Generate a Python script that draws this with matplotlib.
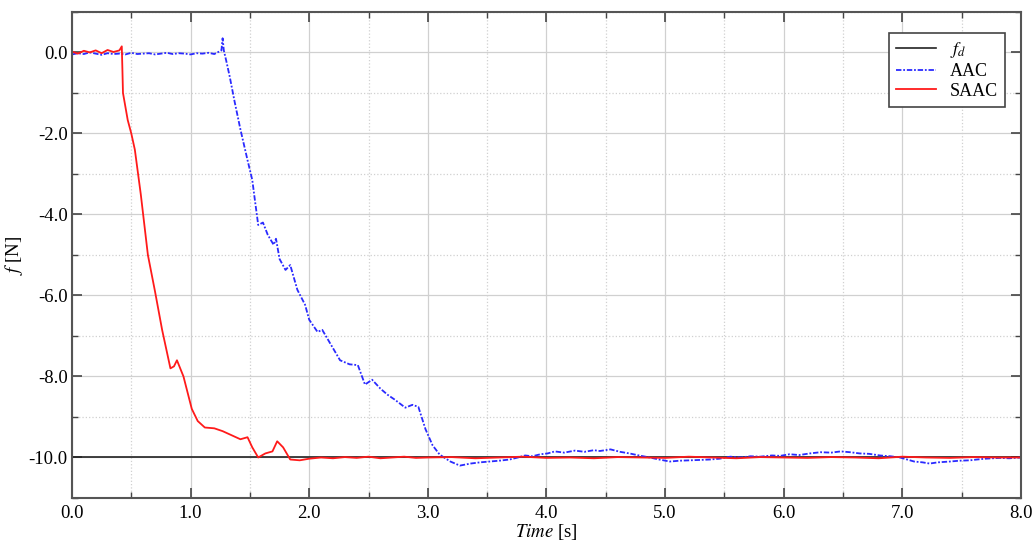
import matplotlib.pyplot as plt
from matplotlib.ticker import MultipleLocator, FormatStrFormatter

plt.rcParams['font.family'] = ['Liberation Serif', 'DejaVu Serif']
plt.rcParams['mathtext.fontset'] = 'stix'

# desired force
fd_time = [0.0, 8.0]
fd_force = [-10.0, -10.0]

# AAC response
aac_time = [0.0, 0.05, 0.1, 0.15, 0.2, 0.25, 0.3, 0.35, 0.4, 0.45, 0.5, 0.55, 0.6,
            0.65, 0.7, 0.75, 0.8, 0.85, 0.9, 0.95, 1.0, 1.05, 1.1, 1.15, 1.2, 1.24,
            1.26, 1.27, 1.28, 1.3, 1.33, 1.37, 1.42, 1.48, 1.52, 1.54, 1.57, 1.61,
            1.65, 1.7, 1.72, 1.75, 1.8, 1.84, 1.9, 1.965, 2.0, 2.07, 2.11, 2.18,
            2.26, 2.34, 2.41, 2.47, 2.53, 2.6, 2.66, 2.72, 2.81, 2.87, 2.92, 2.98,
            3.04, 3.1, 3.19, 3.27, 3.36, 3.44, 3.52, 3.6, 3.69, 3.76, 3.82, 3.88,
            3.95, 4.01, 4.07, 4.15, 4.24, 4.32, 4.4, 4.45, 4.54, 4.62, 4.7, 4.78,
            4.87, 4.95, 5.04, 5.12, 5.21, 5.3, 5.38, 5.46, 5.55, 5.64, 5.72, 5.8,
            5.9, 5.97, 6.05, 6.13, 6.22, 6.31, 6.4, 6.48, 6.56, 6.64, 6.72, 6.81,
            6.9, 6.98, 7.04, 7.1, 7.17, 7.23, 7.3, 7.4, 7.48, 7.57, 7.63, 7.7,
            7.76, 7.82, 7.9, 8.0]
aac_force = [-0.05, -0.02, -0.04, 0.0, -0.03, -0.06, -0.02, -0.04, -0.03, -0.05,
             -0.01, -0.04, -0.03, -0.02, -0.05, -0.03, -0.01, -0.04, -0.02, -0.03,
             -0.05, -0.02, -0.03, -0.01, -0.04, 0.02, 0.05, 0.35, 0.05, -0.2,
             -0.6, -1.2, -1.9, -2.66, -3.15, -3.6, -4.26, -4.2, -4.5, -4.75, -4.6,
             -5.1, -5.37, -5.25, -5.86, -6.23, -6.6, -6.9, -6.85, -7.2, -7.6, -7.7,
             -7.72, -8.2, -8.08, -8.3, -8.45, -8.57, -8.77, -8.7, -8.75, -9.3,
             -9.7, -9.93, -10.1, -10.2, -10.15, -10.12, -10.1, -10.08, -10.05,
             -10.0, -9.95, -9.97, -9.92, -9.9, -9.85, -9.88, -9.83, -9.86, -9.82,
             -9.84, -9.8, -9.86, -9.9, -9.95, -10.0, -10.05, -10.1, -10.08, -10.07,
             -10.06, -10.05, -10.03, -9.98, -10.0, -9.97, -9.98, -9.95, -9.96,
             -9.92, -9.94, -9.9, -9.87, -9.88, -9.85, -9.87, -9.9, -9.91, -9.95,
             -9.97, -10.0, -10.05, -10.1, -10.12, -10.15, -10.12, -10.1, -10.08,
             -10.07, -10.05, -10.03, -10.02, -10.01, -10.02, -10.0]

# SAAC response
saac_time = [0.0, 0.05, 0.1, 0.15, 0.2, 0.25, 0.3, 0.35, 0.4, 0.42, 0.425, 0.43,
             0.47, 0.5, 0.53, 0.58, 0.64, 0.7, 0.76, 0.83, 0.86, 0.885, 0.94,
             1.01, 1.06, 1.12, 1.2, 1.27, 1.33, 1.42, 1.48, 1.52, 1.57, 1.63,
             1.69, 1.73, 1.78, 1.84, 1.92, 2.0, 2.1, 2.2, 2.3, 2.4, 2.5, 2.6,
             2.7, 2.8, 2.9, 3.0, 3.2, 3.4, 3.6, 3.8, 4.0, 4.2, 4.4, 4.6, 4.8,
             5.0, 5.2, 5.4, 5.6, 5.8, 6.0, 6.2, 6.4, 6.6, 6.8, 7.0, 7.2, 7.4,
             7.6, 7.8, 8.0]
saac_force = [0.02, -0.03, 0.04, 0.0, 0.05, -0.02, 0.06, 0.01, 0.05, 0.15, -0.4,
              -1.0, -1.67, -2.0, -2.4, -3.5, -5.0, -5.9, -6.85, -7.8, -7.75,
              -7.6, -8.0, -8.8, -9.1, -9.26, -9.28, -9.35, -9.43, -9.55, -9.5,
              -9.75, -10.0, -9.9, -9.85, -9.6, -9.75, -10.05, -10.07, -10.03,
              -10.0, -10.02, -9.99, -10.01, -9.98, -10.02, -10.0, -9.98, -10.01,
              -10.0, -9.99, -10.02, -10.0, -9.98, -10.01, -10.0, -10.02, -9.99,
              -10.0, -10.01, -9.98, -10.0, -10.02, -9.99, -10.0, -10.01, -9.99,
              -10.0, -10.02, -9.98, -10.0, -10.01, -9.99, -10.0, -10.0]

fig = plt.figure(figsize=(10.34, 5.41), dpi=100)
ax = fig.add_axes([0.0696, 0.0795, 0.9178, 0.8985])

ax.plot(fd_time, fd_force, color='#222222', lw=1.2, label='$f_d$')
ax.plot(aac_time, aac_force, color='#2a2aff', lw=1.3, linestyle=(0, (3, 1, 1, 1)),
        label='AAC')
ax.plot(saac_time, saac_force, color='#ff1a1a', lw=1.3, label='SAAC')

ax.set_xlim(0, 8)
ax.set_ylim(-11, 1)
ax.xaxis.set_major_locator(MultipleLocator(1.0))
ax.xaxis.set_minor_locator(MultipleLocator(0.5))
ax.yaxis.set_major_locator(MultipleLocator(2.0))
ax.yaxis.set_minor_locator(MultipleLocator(1.0))
ax.xaxis.set_major_formatter(FormatStrFormatter('%.1f'))
ax.yaxis.set_major_formatter(FormatStrFormatter('%.1f'))

ax.grid(True, which='major', color='#d0d0d0', lw=0.9, linestyle='-')
ax.grid(True, which='minor', color='#d0d0d0', lw=0.9, linestyle=':')
ax.set_axisbelow(True)

ax.tick_params(which='both', direction='in', top=True, right=True, labelsize=13.5,
               color='#444444')
ax.tick_params(which='major', length=7, width=1.2)
ax.tick_params(axis='x', which='major', pad=5)
ax.tick_params(axis='y', which='major', pad=3)
ax.tick_params(which='minor', length=4, width=1.0)
for s in ax.spines.values():
    s.set_color('#555555')
    s.set_linewidth(1.5)

ax.set_xlabel('$\\mathit{Time}$ [s]', fontsize=13.5, labelpad=0)
ax.set_ylabel('$\\mathit{f}$ [N]', fontsize=13.5, labelpad=3)

leg = ax.legend(loc='upper right', fontsize=13, fancybox=False, framealpha=1,
                edgecolor='#444444', handlelength=2.2, borderpad=0.4,
                labelspacing=0.15, bbox_to_anchor=(0.993, 0.975))
leg.get_frame().set_linewidth(1.2)

fig.savefig('out.png', dpi=100)
